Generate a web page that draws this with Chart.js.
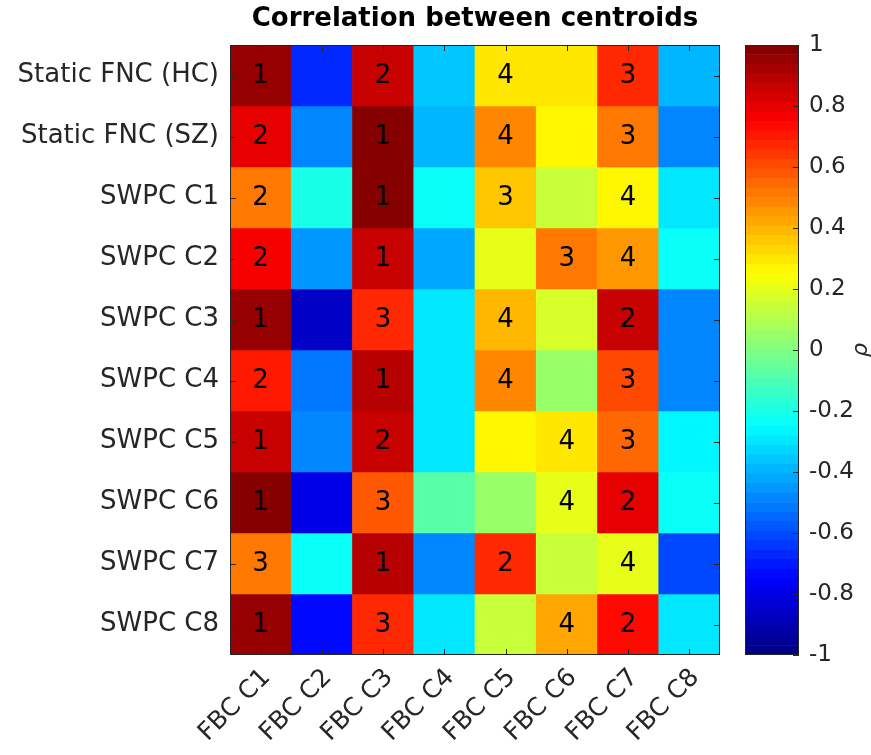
<!DOCTYPE html>
<html>
<head>
<meta charset="utf-8">
<title>Correlation between centroids</title>
<script src="https://cdn.jsdelivr.net/npm/chart.js@4.4.1/dist/chart.umd.min.js"></script>
<style>
  body { margin: 0; background: #fff; }
  #wrap { position: relative; width: 871px; height: 755px; }
  #heat { position: absolute; left: 0; top: 0; }
  #cbar { position: absolute; left: 720px; top: 0; }
</style>
</head>
<body>
<div id="wrap">
  <canvas id="heat" width="871" height="755"></canvas>
  <canvas id="cbar" width="151" height="755"></canvas>
</div>
<script>
// rows (top to bottom) and columns of the matrix
const rowLabels = ['Static FNC (HC)', 'Static FNC (SZ)', 'SWPC C1', 'SWPC C2', 'SWPC C3',
                   'SWPC C4', 'SWPC C5', 'SWPC C6', 'SWPC C7', 'SWPC C8'];
const colLabels = ['FBC C1', 'FBC C2', 'FBC C3', 'FBC C4', 'FBC C5', 'FBC C6', 'FBC C7', 'FBC C8'];

// correlation (rho)
const rho = [
  [0.96, -0.67, 0.85, -0.35, 0.31, 0.31, 0.68, -0.39],
  [0.80, -0.50, 0.98, -0.39, 0.48, 0.25, 0.51, -0.49],
  [0.50, -0.19, 0.98, -0.25, 0.35, 0.15, 0.25, -0.29],
  [0.75, -0.44, 0.85, -0.41, 0.21, 0.53, 0.44, -0.22],
  [0.96, -0.85, 0.68, -0.29, 0.38, 0.18, 0.85, -0.50],
  [0.71, -0.53, 0.88, -0.29, 0.47, 0.06, 0.60, -0.50],
  [0.85, -0.50, 0.85, -0.29, 0.25, 0.31, 0.56, -0.27],
  [0.98, -0.80, 0.58, -0.09, 0.05, 0.21, 0.81, -0.22],
  [0.53, -0.23, 0.88, -0.47, 0.68, 0.15, 0.21, -0.61],
  [0.96, -0.73, 0.66, -0.29, 0.15, 0.41, 0.72, -0.29]
];

// rank numbers written in the cells (0 = none)
const rank = [
  [1, 0, 2, 0, 4, 0, 3, 0],
  [2, 0, 1, 0, 4, 0, 3, 0],
  [2, 0, 1, 0, 3, 0, 4, 0],
  [2, 0, 1, 0, 0, 3, 4, 0],
  [1, 0, 3, 0, 4, 0, 2, 0],
  [2, 0, 1, 0, 4, 0, 3, 0],
  [1, 0, 2, 0, 0, 4, 3, 0],
  [1, 0, 3, 0, 0, 4, 2, 0],
  [3, 0, 1, 0, 2, 0, 4, 0],
  [1, 0, 3, 0, 0, 4, 2, 0]
];

const cbarMin = -1, cbarMax = 1, cbarStep = 0.2;
const cbarLabel = 'ρ';
const levels = 64;

// matlab style jet colormap, 64 steps
function jetLevel(i) {
  const t = (i + 0.5) / levels;
  const f = v => Math.round(255 * Math.max(0, Math.min(1, v)));
  return 'rgb(' + f(1.5 - Math.abs(4 * t - 3)) + ',' + f(1.5 - Math.abs(4 * t - 2)) + ',' + f(1.5 - Math.abs(4 * t - 1)) + ')';
}
function jetColor(v) {
  let i = Math.floor((v - cbarMin) / (cbarMax - cbarMin) * levels);
  i = Math.max(0, Math.min(levels - 1, i));
  return jetLevel(i);
}

const FONT = '"DejaVu Sans", "Liberation Sans", sans-serif';
const INK = '#262626';

// inner tick marks, frame and cell numbers
const heatDecor = {
  id: 'heatDecor',
  afterDatasetsDraw(chart) {
    const ctx = chart.ctx, a = chart.chartArea;
    const x = chart.scales.x, y = chart.scales.y;
    ctx.save();
    ctx.font = '26px ' + FONT;
    ctx.fillStyle = '#000';
    ctx.textAlign = 'center';
    ctx.textBaseline = 'middle';
    chart.data.datasets.forEach((ds, r) => {
      chart.getDatasetMeta(r).data.forEach((bar, c) => {
        if (rank[r][c]) ctx.fillText(String(rank[r][c]), bar.x, (bar.y + bar.base) / 2 + 1);
      });
    });
    ctx.strokeStyle = INK;
    ctx.lineWidth = 1;
    ctx.beginPath();
    x.ticks.forEach((t, i) => {
      const px = Math.round(x.getPixelForTick(i)) + 0.5;
      ctx.moveTo(px, a.top); ctx.lineTo(px, a.top + 6);
      ctx.moveTo(px, a.bottom); ctx.lineTo(px, a.bottom - 6);
    });
    y.ticks.forEach((t, i) => {
      const py = Math.round(y.getPixelForTick(i)) + 0.5;
      ctx.moveTo(a.left, py); ctx.lineTo(a.left + 6, py);
      ctx.moveTo(a.right, py); ctx.lineTo(a.right - 6, py);
    });
    ctx.stroke();
    ctx.strokeRect(Math.round(a.left) + 0.5, Math.round(a.top) + 0.5, Math.round(a.width) - 1, Math.round(a.height) - 1);
    ctx.restore();
  }
};

const cbarDecor = {
  id: 'cbarDecor',
  afterDatasetsDraw(chart) {
    const ctx = chart.ctx, a = chart.chartArea, y = chart.scales.y;
    ctx.save();
    ctx.strokeStyle = INK;
    ctx.lineWidth = 1;
    ctx.beginPath();
    y.ticks.forEach((t, i) => {
      const py = Math.round(y.getPixelForTick(i)) + 0.5;
      ctx.moveTo(a.right, py); ctx.lineTo(a.right - 6, py);
    });
    ctx.stroke();
    ctx.strokeRect(Math.round(a.left) + 0.5, Math.round(a.top) + 0.5, Math.round(a.width) - 1, Math.round(a.height) - 1);
    // colorbar label, rotated counter-clockwise like matlab
    ctx.translate(y.right - 10, (a.top + a.bottom) / 2);
    ctx.rotate(-Math.PI / 2);
    ctx.font = 'italic 22px ' + FONT;
    ctx.fillStyle = INK;
    ctx.textAlign = 'center';
    ctx.textBaseline = 'middle';
    ctx.fillText(cbarLabel, 0, 0);
    ctx.restore();
  }
};

new Chart(document.getElementById('heat'), {
  type: 'bar',
  data: {
    labels: colLabels,
    datasets: rowLabels.map((name, r) => ({
      label: name,
      data: colLabels.map(() => [r, r + 1]),
      backgroundColor: rho[r].map(jetColor),
      borderWidth: 0,
      grouped: false,
      barPercentage: 1,
      categoryPercentage: 1
    }))
  },
  options: {
    responsive: false,
    animation: false,
    layout: { padding: { left: 0, right: 151, top: 0, bottom: 0 } },
    plugins: {
      legend: { display: false },
      tooltip: { enabled: false },
      title: {
        display: true,
        fullSize: false,
        text: 'Correlation between centroids',
        color: '#000',
        font: { family: FONT, size: 26, weight: 'bold' },
        padding: { top: 4, bottom: 9.8 }
      }
    },
    scales: {
      x: {
        type: 'category',
        grid: { display: false, drawTicks: false },
        border: { display: false },
        ticks: { color: INK, font: { family: FONT, size: 25 }, minRotation: 45, maxRotation: 45, padding: 8, labelOffset: 6 },
        afterFit: s => { s.height = 100; }
      },
      y: {
        type: 'linear',
        min: 0,
        max: rowLabels.length,
        reverse: true,
        grid: { display: false, drawTicks: false },
        border: { display: false },
        afterBuildTicks: s => { s.ticks = rowLabels.map((_, i) => ({ value: i + 0.5 })); },
        ticks: {
          autoSkip: false,
          color: INK,
          font: { family: FONT, size: 26 },
          padding: 11,
          callback: v => rowLabels[Math.floor(v)]
        },
        afterFit: s => { s.width = 230; }
      }
    }
  },
  plugins: [heatDecor]
});

new Chart(document.getElementById('cbar'), {
  type: 'bar',
  data: {
    labels: [''],
    datasets: Array.from({ length: levels }, (_, i) => {
      const lo = cbarMin + (cbarMax - cbarMin) * i / levels;
      return {
        data: [[lo, lo + (cbarMax - cbarMin) / levels]],
        backgroundColor: jetLevel(i),
        borderWidth: 0,
        grouped: false,
        barPercentage: 1,
        categoryPercentage: 1
      };
    })
  },
  options: {
    responsive: false,
    animation: false,
    layout: { padding: { left: 25, right: 0, top: 45, bottom: 100 } },
    plugins: { legend: { display: false }, tooltip: { enabled: false } },
    scales: {
      x: { display: false },
      y: {
        type: 'linear',
        position: 'right',
        min: cbarMin,
        max: cbarMax,
        grid: { display: false, drawTicks: false },
        border: { display: false },
        ticks: {
          stepSize: cbarStep,
          color: INK,
          font: { family: FONT, size: 23 },
          padding: 10,
          callback: v => String(Math.round(v * 10) / 10)
        },
        afterFit: s => { s.width = 72; }
      }
    }
  },
  plugins: [cbarDecor]
});
</script>
</body>
</html>
